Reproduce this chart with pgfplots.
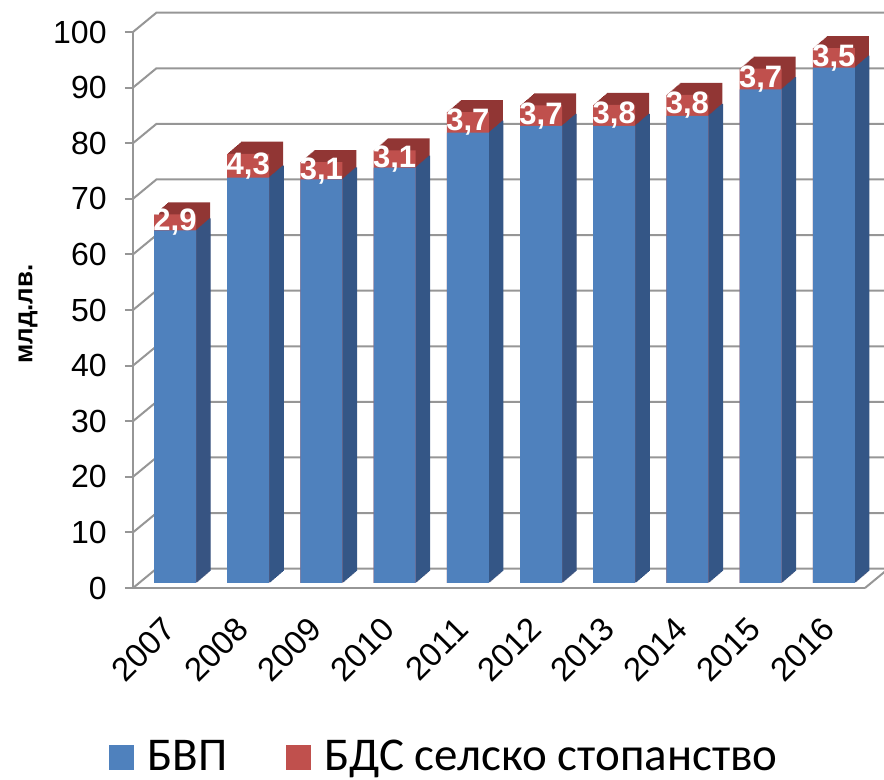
\documentclass[border=0pt]{standalone}
\usepackage{pgfplots}
\pgfplotsset{compat=1.18}
\usepackage{pgfplotstable}
\usepackage{fontspec}
\setmainfont{Liberation Sans}
\newfontfamily\legfont{Carlito}
\definecolor{bfront}{RGB}{79,129,189}
\definecolor{bside}{RGB}{52,86,134}
\definecolor{rfront}{RGB}{192,80,77}
\definecolor{rside}{RGB}{145,54,52}
\definecolor{gridc}{RGB}{150,150,150}
\pgfplotstableread{
x gdp agr lab
0 63.4 2.9 2,9
1 72.9 4.3 4,3
2 72.6 3.1 3,1
3 74.7 3.1 3,1
4 81.0 3.7 3,7
5 82.2 3.7 3,7
6 82.2 3.8 3,8
7 84.0 3.8 3,8
8 88.8 3.7 3,7
9 92.7 3.5 3,5
}\data
\begin{document}
\begin{tikzpicture}
\useasboundingbox (-66.5pt,-96pt) rectangle (375.5pt,294pt);
\begin{axis}[
  at={(0,0)}, anchor=south west,
  scale only axis, width=366pt, height=278pt,
  xmin=-0.574, xmax=9.426, ymin=0, ymax=100,
  axis lines*=left,
  axis line style={draw=gridc, line width=1pt},
  ytick={0,10,...,100},
  xtick={0,...,9},
  xticklabels={2007,2008,2009,2010,2011,2012,2013,2014,2015,2016},
  xtick style={draw=none},
  ytick style={draw=gridc, line width=1pt},
  tick align=outside,
  major tick length=4pt,
  /pgf/number format/assume math mode=true,
  yticklabel style={font=\fontsize{16}{19}\selectfont, inner sep=0pt, anchor=east, xshift=-9pt},
  xticklabel style={font=\fontsize{16.5}{19}\selectfont, inner sep=0pt, xshift=-7pt, yshift=-9.5pt, rotate=45, anchor=north east},
  clip=false,
  bar width=21pt, bar shift=0pt,
  legend image code/.code={\fill[#1, draw=none] (0pt,-6.25pt) rectangle (12.5pt,6.25pt); \path[draw=none, fill=none] (0pt,0pt) -- (19pt,0pt);},
  legend columns=2,
  legend style={draw=none, fill=none, inner sep=0pt, at={(-0.0328,-0.304)}, anchor=west,
    font=\legfont\fontsize{23.5}{27}\selectfont,
    nodes={inner sep=0pt},
    /tikz/every even column/.append style={column sep=29.5pt}},
]
\pgfplotsinvokeforeach{0,10,...,100}{
  \draw[gridc, line width=1pt] (axis cs:-0.574,#1) -- ([shift={(11.7pt,9.65pt)}]axis cs:-0.574,#1) -- ([shift={(11.7pt,9.65pt)}]axis cs:9.426,#1);
}
\draw[gridc, line width=1pt] (axis cs:9.426,0) -- ([shift={(11.7pt,9.65pt)}]axis cs:9.426,0);
% 3D depth, painted back to front
\pgfplotsinvokeforeach{14,13,...,1}{
  \addplot[ybar, forget plot, fill=rside, draw=none, xshift=#1*0.5pt, yshift=2.5pt+#1*0.43pt]
    table[x=x, y expr=\thisrow{gdp}+\thisrow{agr}] {\data};
  \addplot[ybar, forget plot, fill=bside, draw=none, bar width=21.6pt, xshift=#1*0.5pt, yshift=2.5pt+#1*0.43pt]
    table[x=x, y=gdp] {\data};
}
% front faces
\addplot[ybar, forget plot, fill=rfront, draw=none, yshift=2.5pt]
  table[x=x, y expr=\thisrow{gdp}+\thisrow{agr}] {\data};
\addplot[ybar, forget plot, fill=bfront, draw=none, yshift=2.5pt]
  table[x=x, y=gdp] {\data};
% labels
\addplot[forget plot, draw=none, mark=none, point meta=explicit symbolic,
  nodes near coords,
  nodes near coords style={font=\bfseries\fontsize{15.5}{18}\selectfont, text=white, anchor=center, yshift=2.5pt}]
  table[x=x, y expr=\thisrow{gdp}+0.5*\thisrow{agr}, meta=lab] {\data};
\addlegendimage{fill=bfront}
\addlegendentry{БВП}
\addlegendimage{fill=rfront}
\addlegendentry{БДС селско стопанство}
\end{axis}
\node[rotate=90, font=\bfseries\fontsize{13}{16}\selectfont] at (-52.5pt,137pt) {млд.лв.};
\end{tikzpicture}
\end{document}
